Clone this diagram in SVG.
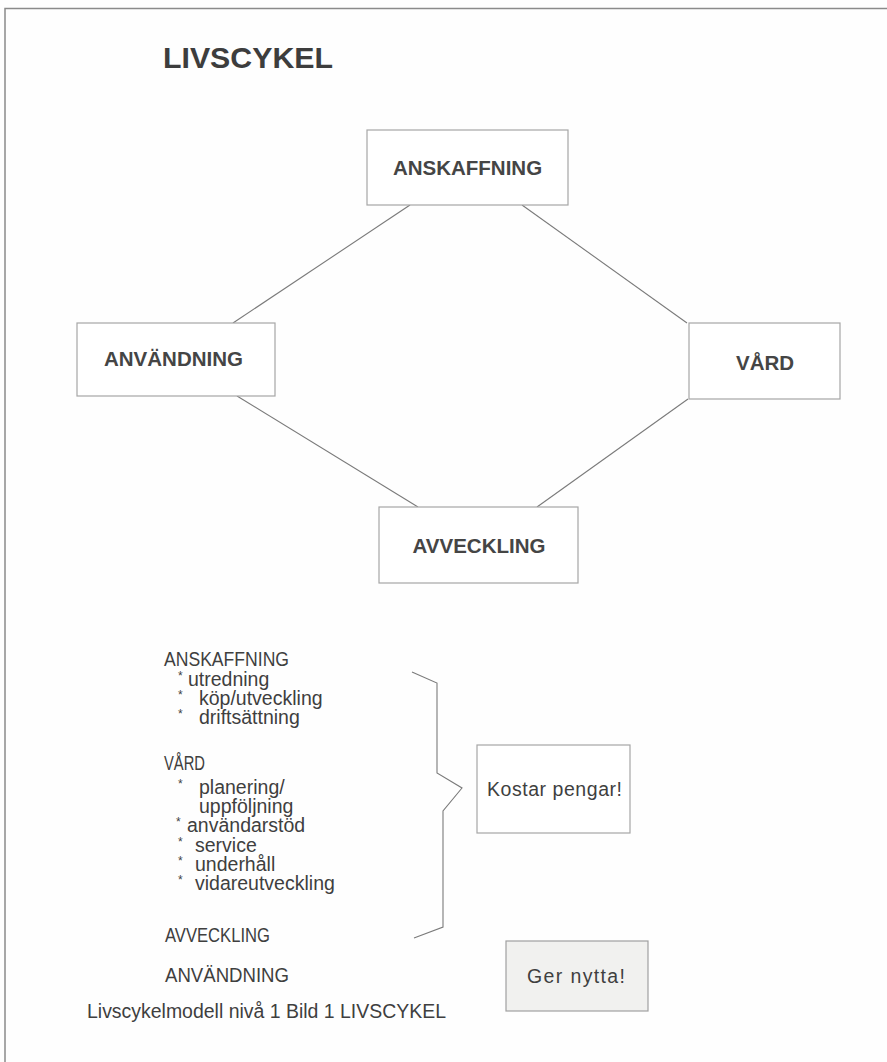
<svg xmlns="http://www.w3.org/2000/svg" width="887" height="1062" viewBox="0 0 887 1062">
<style>
.bg{fill:#fefefe}
.frame{fill:none;stroke:#8a8a8a;stroke-width:1.5}
.box{fill:#ffffff;stroke:#a6a6a6;stroke-width:1.2}
.gbox{fill:#f1f1ef;stroke:#a0a0a0;stroke-width:1.2}
.con{fill:none;stroke:#7a7a7a;stroke-width:1.1}
.title{font-family:"Liberation Sans",Arial,sans-serif;font-weight:bold;font-size:30px;fill:#3d3d3d}
.nl{font-family:"Liberation Sans",Arial,sans-serif;font-weight:bold;font-size:20.5px;fill:#454545}
.t{font-family:"Liberation Sans",Arial,sans-serif;font-size:19.5px;fill:#3f3f3f}
.ast{font-size:12px}
</style>
<rect class="bg" x="0" y="0" width="887" height="1062"/>
<path class="frame" d="M5,1062 L5,8.5 L887,8.5"/>
<text class="title" x="163" y="68" textLength="170" lengthAdjust="spacingAndGlyphs">LIVSCYKEL</text>

<g id="connectors">
<line class="con" x1="410" y1="205" x2="233" y2="323"/>
<line class="con" x1="522" y1="205" x2="687" y2="323"/>
<line class="con" x1="237" y1="396" x2="418" y2="507"/>
<line class="con" x1="688" y1="399" x2="537" y2="507"/>
<polyline class="con" points="412,672 437,683 437,773 462,788 443,811 443,927 414,938"/>
</g>

<g id="anskaffning">
<rect class="box" x="367" y="130" width="201" height="75"/>
<text class="nl" x="467.5" y="175" text-anchor="middle">ANSKAFFNING</text>
</g>
<g id="anvandning">
<rect class="box" x="77" y="323" width="198" height="73"/>
<text class="nl" x="104" y="366">ANVÄNDNING</text>
</g>
<g id="vard">
<rect class="box" x="689" y="323" width="151" height="76"/>
<text class="nl" x="736" y="370">VÅRD</text>
</g>
<g id="avveckling">
<rect class="box" x="379" y="507" width="199" height="76"/>
<text class="nl" x="479" y="553" text-anchor="middle">AVVECKLING</text>
</g>

<g id="list">
<text class="t"><tspan x="164" y="666" textLength="125" lengthAdjust="spacingAndGlyphs">ANSKAFFNING</tspan><tspan class="ast" x="178" y="680">*</tspan><tspan x="188" y="686">utredning</tspan><tspan class="ast" x="178" y="699">*</tspan><tspan x="199" y="705">köp/utveckling</tspan><tspan class="ast" x="178" y="718">*</tspan><tspan x="199" y="724">driftsättning</tspan></text>
<text class="t"><tspan x="164" y="770" textLength="41" lengthAdjust="spacingAndGlyphs">VÅRD</tspan><tspan class="ast" x="178" y="788">*</tspan><tspan x="199" y="794">planering/</tspan><tspan x="199" y="813">uppföljning</tspan><tspan class="ast" x="176" y="826">*</tspan><tspan x="187" y="832">användarstöd</tspan><tspan class="ast" x="178" y="846">*</tspan><tspan x="195" y="852">service</tspan><tspan class="ast" x="178" y="865">*</tspan><tspan x="195" y="871">underhåll</tspan><tspan class="ast" x="178" y="884">*</tspan><tspan x="195" y="890">vidareutveckling</tspan></text>
<text class="t" x="165" y="942" textLength="105" lengthAdjust="spacingAndGlyphs">AVVECKLING</text>
<text class="t" x="165" y="982" textLength="124" lengthAdjust="spacingAndGlyphs">ANVÄNDNING</text>
<text class="t" x="87" y="1018" textLength="359" lengthAdjust="spacingAndGlyphs">Livscykelmodell nivå 1 Bild 1 LIVSCYKEL</text>
</g>

<g id="kostar">
<rect class="box" x="477" y="745" width="153" height="88"/>
<text class="t" x="487" y="796" textLength="135" lengthAdjust="spacing">Kostar pengar!</text>
</g>
<g id="nytta">
<rect class="gbox" x="506" y="941" width="142" height="70"/>
<text class="t" x="527" y="983" textLength="98" lengthAdjust="spacing">Ger nytta!</text>
</g>
</svg>
